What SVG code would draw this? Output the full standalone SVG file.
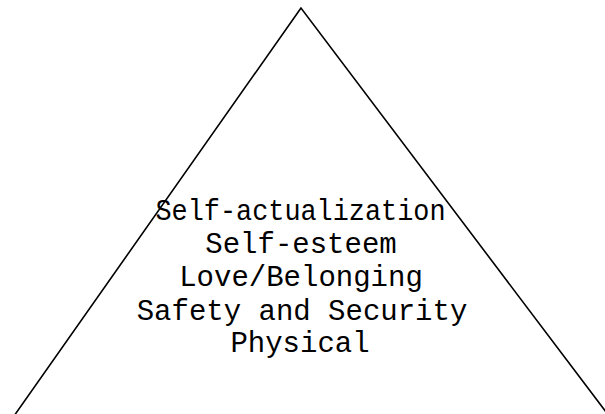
<svg xmlns="http://www.w3.org/2000/svg" width="605" height="414" viewBox="0 0 605 414">
<style>
.lbl{font-family:"Liberation Mono","Courier New",monospace;font-size:29px;fill:#000;text-anchor:middle}
</style>
<rect width="605" height="414" fill="#fff"/>
<g id="pyramid">
<polygon points="301,8 14,416 609,416" fill="none" stroke="#000" stroke-width="1.6"/>
</g>
<g id="levels">
<text class="lbl" x="300.5" y="220" textLength="290" lengthAdjust="spacingAndGlyphs">Self-actualization</text>
<text class="lbl" x="301" y="253">Self-esteem</text>
<text class="lbl" x="301" y="286">Love/Belonging</text>
<text class="lbl" x="302" y="320">Safety and Security</text>
<text class="lbl" x="300" y="352">Physical</text>
</g>
</svg>
